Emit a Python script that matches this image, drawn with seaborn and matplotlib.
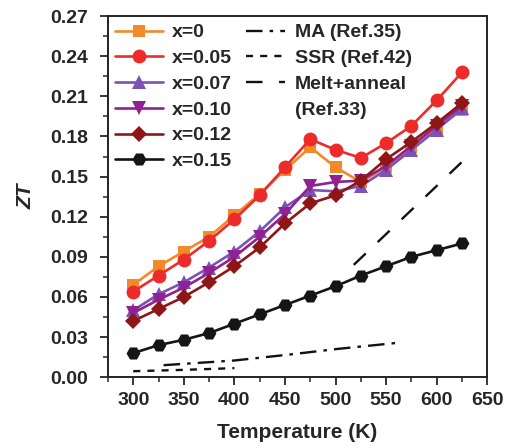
import numpy as np
import pandas as pd
import matplotlib
matplotlib.use("Agg")
import matplotlib.pyplot as plt
from matplotlib.lines import Line2D
import seaborn as sns

# ---- data ----
temps = [300, 325, 350, 375, 400, 425, 450, 475, 500, 525, 550, 575, 600, 625]
zt_x0 = [0.069, 0.083, 0.094, 0.105, 0.121, 0.137, 0.155, 0.172, 0.157, 0.146, 0.157, 0.172, 0.186, 0.200]
zt_x005 = [0.064, 0.076, 0.088, 0.102, 0.118, 0.136, 0.157, 0.178, 0.170, 0.164, 0.175, 0.188, 0.207, 0.228]
zt_x007 = [0.050, 0.062, 0.071, 0.082, 0.094, 0.109, 0.127, 0.140, 0.139, 0.143, 0.155, 0.170, 0.185, 0.201]
zt_x010 = [0.048, 0.058, 0.067, 0.078, 0.090, 0.105, 0.122, 0.143, 0.146, 0.147, 0.158, 0.173, 0.188, 0.203]
zt_x012 = [0.042, 0.051, 0.060, 0.071, 0.083, 0.097, 0.115, 0.130, 0.136, 0.147, 0.163, 0.176, 0.190, 0.205]
zt_x015 = [0.018, 0.024, 0.028, 0.033, 0.040, 0.047, 0.054, 0.061, 0.068, 0.076, 0.083, 0.090, 0.095, 0.100]

ma_T = [330, 400, 455, 500, 565]
ma_zt = [0.009, 0.0125, 0.017, 0.021, 0.026]
ssr_T = [300, 350, 400]
ssr_zt = [0.0045, 0.0055, 0.0068]
melt_T = [518, 625]
melt_zt = [0.084, 0.161]

series_labels = ["x=0", "x=0.05", "x=0.07", "x=0.10", "x=0.12", "x=0.15"]
ref_labels = ["MA (Ref.35)", "SSR (Ref.42)", "Melt+anneal"]
ref_label_extra = "(Ref.33)"

# ---- style ----
sns.set_style("ticks")
plt.rcParams['font.family'] = ['Liberation Sans', 'DejaVu Sans']
plt.rcParams['font.weight'] = 'bold'

fig = plt.figure(figsize=(5.14, 4.48), dpi=100)
ax = fig.add_axes([0.21, 0.158, 0.738, 0.806])

series = [zt_x0, zt_x005, zt_x007, zt_x010, zt_x012, zt_x015]
colors = ["#F28A2A", "#EE2B2B", "#7D52B5", "#8E2293", "#8E1616", "#151515"]
markers = ["s", "o", "^", "v", "D", "H"]
msizes = [8, 10, 10, 10, 8.5, 10]

handles = []
for vals, c, m, ms, lab in zip(series, colors, markers, msizes, series_labels):
    df = pd.DataFrame({"T": temps, "ZT": vals})
    sns.lineplot(data=df, x="T", y="ZT", ax=ax, color=c, marker=m, markersize=ms,
                 markeredgewidth=0, linewidth=1.9, legend=False)
    handles.append(Line2D([], [], color=c, marker=m, markersize=ms, markeredgewidth=0,
                          linewidth=1.9, label=lab))

refs = [(ma_T, ma_zt, (0, (7, 3, 1.5, 3))), (ssr_T, ssr_zt, (0, (3, 3))),
        (melt_T, melt_zt, (0, (7, 7)))]
ref_handles = []
for (tt, zz, ls), lab in zip(refs, ref_labels):
    df = pd.DataFrame({"T": tt, "ZT": zz})
    sns.lineplot(data=df, x="T", y="ZT", ax=ax, color="#111111", linewidth=1.7,
                 legend=False, linestyle=ls)
    ref_handles.append(Line2D([], [], color="#111111", linewidth=1.7, linestyle=ls, label=lab))
ref_handles.append(Line2D([], [], linestyle='none', label=ref_label_extra))

ax.set_xlim(275, 650)
ax.set_ylim(0, 0.27)
ax.set_xticks(np.arange(300, 651, 50))
ax.set_xticks(np.arange(275, 651, 25), minor=True)
ax.set_yticks(np.arange(0, 0.271, 0.03))
ax.set_yticks(np.arange(0, 0.271, 0.015), minor=True)
ax.set_yticklabels([f"{v:.2f}" for v in np.arange(0, 0.271, 0.03)])
ax.tick_params(axis='x', which='major', labelsize=14, length=6, width=1.3,
               direction='out', pad=5)
ax.tick_params(axis='y', which='major', labelsize=14, length=6, width=1.3,
               direction='out', pad=8)
ax.tick_params(axis='both', which='minor', length=3.5, width=1.1, direction='out')
for lab in ax.get_xticklabels() + ax.get_yticklabels():
    lab.set_fontweight('bold')
for sp in ax.spines.values():
    sp.set_linewidth(1.4)
    sp.set_color("#222222")

ax.set_xlabel("Temperature (K)", fontsize=15, fontweight='bold', labelpad=10)
ax.set_ylabel("ZT", fontsize=15, fontweight='bold', style='italic', labelpad=11)

leg1 = ax.legend(handles=handles, loc='upper left', bbox_to_anchor=(0.018, 0.979),
                 frameon=False, handlelength=2.5, labelspacing=0.42,
                 borderaxespad=0, borderpad=0, handletextpad=0.45,
                 prop={'weight': 'bold', 'size': 14})
ax.add_artist(leg1)
ax.legend(handles=ref_handles, loc='upper left', bbox_to_anchor=(0.365, 0.979),
          frameon=False, handlelength=2.0, labelspacing=0.42, borderaxespad=0,
          borderpad=0, handletextpad=0.5, prop={'weight': 'bold', 'size': 14})

fig.savefig("out.png", dpi=100)
